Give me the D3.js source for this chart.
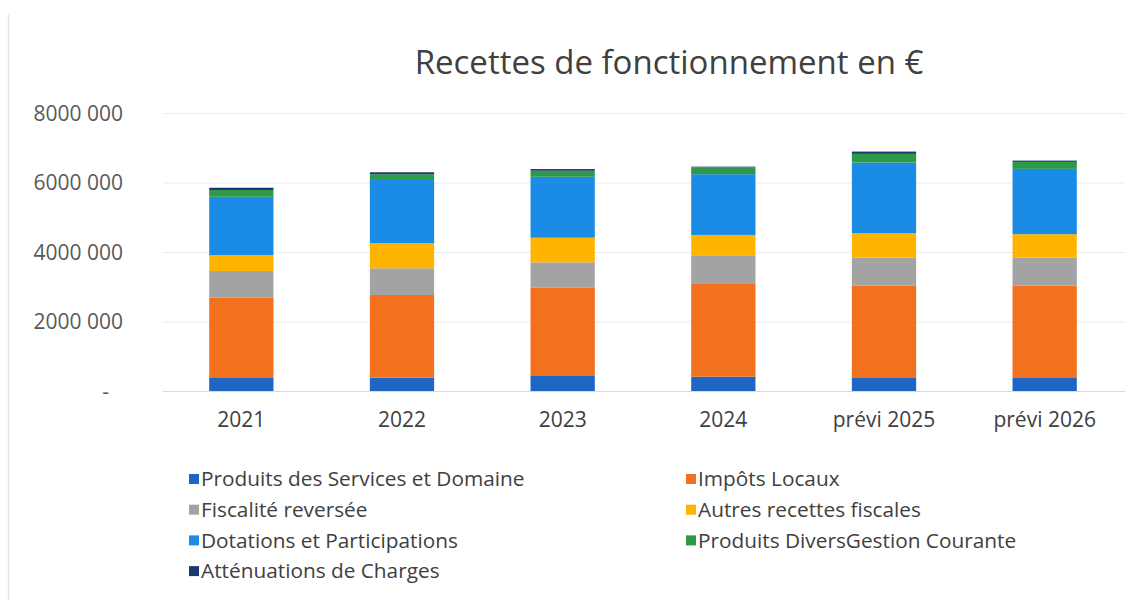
<!DOCTYPE html>
<html>
<head>
<meta charset="utf-8">
<script src="https://cdn.jsdelivr.net/npm/d3@7"></script>
<style>
  body { margin: 0; background: #fff; }
  svg text { font-family: "Open Sans", Lato, sans-serif; }
</style>
</head>
<body>
<div id="chart"></div>
<script>
var years = ['2021', '2022', '2023', '2024', 'prévi 2025', 'prévi 2026'];
var series = ['Produits des Services et Domaine', 'Impôts Locaux', 'Fiscalité reversée',
  'Autres recettes fiscales', 'Dotations et Participations',
  'Produits DiversGestion Courante', 'Atténuations de Charges'];
var colors = ['#1f66c4', '#f2711f', '#a3a3a3', '#ffb400', '#1b8ce6', '#2c9a48', '#1c3a6e'];

// values per series, one per year
var produitsServices = [394000, 383000, 432000, 411000, 394000, 374000];
var impotsLocaux = [2290000, 2380000, 2550000, 2690000, 2640000, 2660000];
var fiscalite = [768000, 768000, 720000, 786000, 806000, 806000];
var autresFiscales = [460000, 720000, 708000, 604000, 702000, 673000];
var dotations = [1678000, 1822000, 1755000, 1747000, 2032000, 1879000];
var produitsDivers = [193000, 164000, 173000, 201000, 250000, 201000];
var attenuations = [66000, 58000, 49000, 17000, 66000, 37000];

var yTicks = [0, 2000000, 4000000, 6000000, 8000000];
var yTickLabels = ['-', '2000 000', '4000 000', '6000 000', '8000 000'];

var all = [produitsServices, impotsLocaux, fiscalite, autresFiscales, dotations, produitsDivers, attenuations];
var rows = years.map(function(y, i) {
  var r = { year: y };
  series.forEach(function(s, j) { r[s] = all[j][i]; });
  return r;
});

var w = 1140, h = 605;
var svg = d3.select('#chart').append('svg')
  .attr('width', w)
  .attr('height', h);

// faint frame of the pasted chart
svg.append('line').attr('x1', 8.5).attr('x2', 8.5).attr('y1', 14).attr('y2', 600)
  .attr('stroke', '#e6e6e6').attr('stroke-width', 1.5);

var x = d3.scaleBand().domain(years).range([161, 1125]).paddingInner(0.6).paddingOuter(0.3);
var y = d3.scaleLinear().domain([0, 8000000]).range([391, 113]);

// gridlines
svg.append('g').selectAll('line')
  .data(yTicks)
  .enter().append('line')
  .attr('x1', 163).attr('x2', 1125)
  .attr('y1', function(d) { return y(d) + 0.5; })
  .attr('y2', function(d) { return y(d) + 0.5; })
  .attr('stroke', function(d) { return d == 0 ? '#d9d9d9' : '#ececec'; })
  .attr('stroke-width', 1);

// y labels
var yAxis = d3.axisLeft(y).tickValues(yTicks)
  .tickFormat(function(d, i) { return yTickLabels[i]; })
  .tickSize(0).tickPadding(0);
var yg = svg.append('g').attr('transform', 'translate(123,0)').call(yAxis);
yg.select('.domain').remove();
yg.selectAll('text').attr('font-size', 21).attr('fill', '#595959').attr('dy', '0.35em');
yg.selectAll('text').filter(function(d) { return d == 0; }).attr('x', -14);

var stack = d3.stack().keys(series)(rows);

svg.append('g').selectAll('g')
  .data(stack)
  .enter().append('g')
  .attr('fill', function(d, i) { return colors[i]; })
  .selectAll('rect')
  .data(function(d) { return d; })
  .enter().append('rect')
  .attr('x', function(d) { return x(d.data.year); })
  .attr('width', x.bandwidth())
  .attr('y', function(d) { return y(d[1]); })
  .attr('height', function(d) { return y(d[0]) - y(d[1]); });

// x labels
var xAxis = d3.axisBottom(x).tickSize(0).tickPadding(0);
var xg = svg.append('g').attr('transform', 'translate(0,411)').call(xAxis);
xg.select('.domain').remove();
xg.selectAll('text').attr('font-size', 21).attr('fill', '#404040').attr('dy', '0.75em');

// title
svg.append('text')
  .attr('x', 669).attr('y', 74)
  .attr('text-anchor', 'middle')
  .attr('font-size', 33)
  .attr('fill', '#404040')
  .text('Recettes de fonctionnement en €');

// legend
var legend = svg.append('g').selectAll('g')
  .data(series)
  .enter().append('g')
  .attr('transform', function(d, i) {
    var col = i % 2, row = Math.floor(i / 2);
    return 'translate(' + (col == 0 ? 189 : 686) + ',' + (479 + row * 30.7) + ')';
  });
legend.append('rect')
  .attr('x', 0).attr('y', -5).attr('width', 10).attr('height', 10)
  .attr('fill', function(d, i) { return colors[i]; });
legend.append('text')
  .attr('x', 12).attr('y', 0).attr('dy', '0.35em')
  .attr('font-size', 20.8).attr('fill', '#404040')
  .text(function(d) { return d; });
</script>
</body>
</html>
